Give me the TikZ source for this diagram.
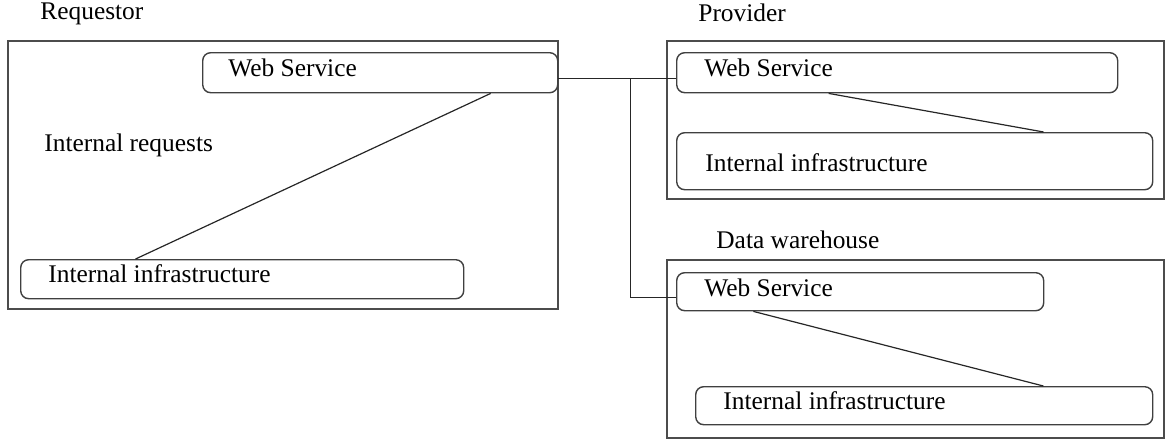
\documentclass[tikz,border=0pt]{standalone}
\usepackage{fontspec}
\setmainfont{Liberation Serif}
\usetikzlibrary{calc,positioning}

\begin{document}
\begin{tikzpicture}[
                x=0.5pt, y=-0.5pt,              % 1 像素 = 0.5pt
                every node/.style={
                    inner sep=0pt,
                    font=\fontsize{12.7}{15}\selectfont
                },
                frame/.style={draw=black!70, line width=0.8pt, anchor=north west},
                svc/.style={draw=black!75, line width=0.7pt, rounded corners=4pt, anchor=north west},
                lbl/.style={anchor=west},
                link/.style={draw=black!85, line width=0.6pt}
            ]
                \useasboundingbox (0,0) rectangle (1167,439);

                % 请求方
                \node[frame, minimum width=275pt, minimum height=134pt] (req) at (7,40) {};
                \node[lbl] (reqlbl) at (40,14) {Requestor};
                \node[svc, minimum width=177.5pt, minimum height=20pt] (reqws) at (202,52) {};
                \node[lbl] (reqwstxt) at (228,68) {Web Service};
                \node[lbl] (reqtxt) at (44,145) {Internal requests};
                \node[svc, minimum width=221.5pt, minimum height=19.5pt] (reqinf) at (20,259) {};
                \node[lbl] (reqinftxt) at (48,274) {Internal infrastructure};

                % 提供方
                \node[frame, minimum width=248.5pt, minimum height=79pt] (prov) at (666,40) {};
                \node[lbl] (provlbl) at (698,13) {Provider};
                \node[svc, minimum width=220.5pt, minimum height=20pt] (provws) at (676,52) {};
                \node[lbl] (provwstxt) at (704,68) {Web Service};
                \node[svc, minimum width=238pt, minimum height=28.5pt] (provinf) at (676,132) {};
                \node[lbl] (provinftxt) at (705,163) {Internal infrastructure};

                % 数据仓库
                \node[frame, minimum width=248.5pt, minimum height=89pt] (dw) at (666,259) {};
                \node[lbl] (dwlbl) at (716,240) {Data warehouse};
                \node[svc, minimum width=183.5pt, minimum height=19pt] (dwws) at (676,272) {};
                \node[lbl] (dwwstxt) at (704,288) {Web Service};
                \node[svc, minimum width=228.5pt, minimum height=19pt] (dwinf) at (695,386) {};
                \node[lbl] (dwinftxt) at (723,401) {Internal infrastructure};

                % 边
                \draw[link] ([yshift=-3pt]reqws.east) -- ([yshift=-3pt]provws.west);
                \coordinate (split) at ($([yshift=-3pt]reqws.east)!0.61!([yshift=-3pt]provws.west)$);
                \draw[link] (split) |- ([yshift=-3pt]dwws.west);
                \draw[link] ($(reqws.south west)!0.81!(reqws.south east)$) -- ($(reqinf.north west)!0.26!(reqinf.north east)$);
                \draw[link] ($(provws.south west)!0.345!(provws.south east)$) -- ($(provinf.north west)!0.77!(provinf.north east)$);
                \draw[link] ($(dwws.south west)!0.21!(dwws.south east)$) -- ($(dwinf.north west)!0.76!(dwinf.north east)$);
            \end{tikzpicture}
\end{document}
